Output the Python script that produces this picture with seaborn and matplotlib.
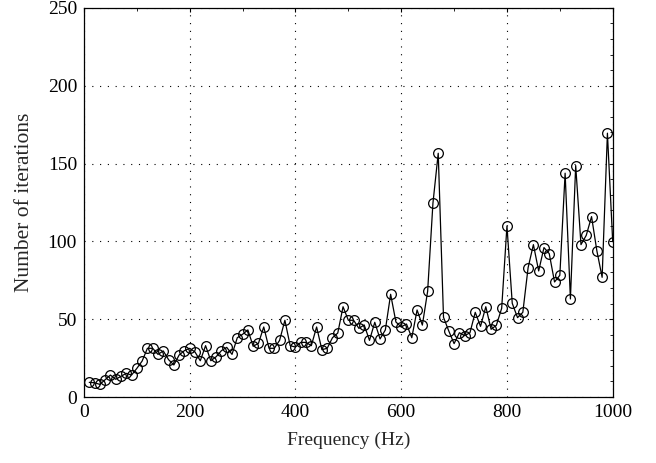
import matplotlib
matplotlib.use("Agg")
import matplotlib.pyplot as plt
import seaborn as sns
import numpy as np
import pandas as pd
from matplotlib.ticker import MultipleLocator

freq = list(range(10, 1001, 10))
iterations = [
    9.4, 9.2, 8.1, 11.1, 14.1, 11.4, 13.3, 15.2, 14.1, 18.4,
    23.1, 31.3, 31.3, 27.4, 29.6, 24.0, 20.6, 27.0, 29.8, 31.3,
    28.9, 23.3, 33.0, 23.3, 25.9, 29.8, 31.9, 27.4, 38.1, 40.3,
    43.1, 32.6, 34.5, 45.0, 31.3, 31.3, 36.4, 49.3, 33.0, 32.1,
    35.1, 35.1, 33.0, 45.0, 30.4, 31.3, 38.1, 41.1, 58.0, 49.3,
    49.3, 44.1, 46.3, 36.4, 48.0, 37.3, 43.1, 66.0, 48.2, 45.0,
    46.9, 38.1, 55.9, 46.2, 68.0, 124.5, 156.6, 51.2, 42.4, 34.3,
    41.3, 39.4, 41.3, 54.4, 45.4, 58.0, 43.5, 46.1, 57.0, 109.9,
    60.2, 51.0, 54.4, 83.1, 97.9, 81.0, 96.0, 92.1, 73.9, 78.2,
    143.8, 63.0, 148.7, 97.9, 103.9, 115.9, 94.0, 76.9, 169.5, 99.8,
]

x_ticks = [0, 200, 400, 600, 800, 1000]
y_ticks = [0, 50, 100, 150, 200, 250]

sns.set_style("white")
plt.rcParams['font.family'] = ['Liberation Serif', 'DejaVu Serif']
plt.rcParams['font.size'] = 14

df = pd.DataFrame({"Frequency (Hz)": freq, "Number of iterations": iterations})

fig = plt.figure(figsize=(6.56, 4.63), dpi=100)
ax = fig.add_axes([0.128, 0.1425, 0.806, 0.8405])

sns.lineplot(data=df, x="Frequency (Hz)", y="Number of iterations", ax=ax,
             color="black", linewidth=0.9, marker="o", markersize=7,
             markerfacecolor="none", markeredgecolor="black",
             markeredgewidth=0.9, zorder=3)

ax.set_xlim(0, 1000)
ax.set_ylim(0, 250)
ax.set_xticks(x_ticks)
ax.set_yticks(y_ticks)
ax.xaxis.set_minor_locator(MultipleLocator(100))
ax.yaxis.set_minor_locator(MultipleLocator(10))
ax.tick_params(which="both", direction="in", top=True, right=True,
               labelsize=14, colors="black")
ax.tick_params(which="major", length=3, width=0.8, pad=5)
ax.tick_params(which="minor", length=2, width=0.6)
ax.grid(True, which="major", color="black", linestyle=(0, (1, 6)), linewidth=0.8)
for s in ax.spines.values():
    s.set_color("black")
    s.set_linewidth(0.9)
ax.set_xlabel("Frequency (Hz)", fontsize=14, labelpad=8)
ax.set_ylabel("Number of iterations", fontsize=15.5, labelpad=10)

fig.savefig("out.png", dpi=100)
